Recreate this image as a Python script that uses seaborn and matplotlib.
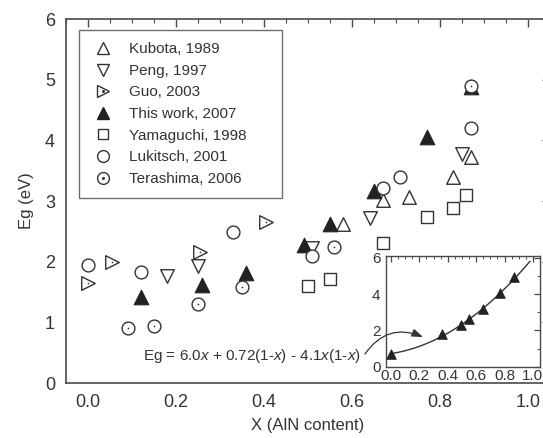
import numpy as np
import matplotlib
matplotlib.use("Agg")
import matplotlib.pyplot as plt
from matplotlib.lines import Line2D
from matplotlib.ticker import MultipleLocator, FormatStrFormatter
import seaborn as sns

# Band-gap measurements of InAlN versus AlN mole fraction
kubota_x = [0.58, 0.67, 0.73, 0.83, 0.87]
kubota_y = [2.62, 3.02, 3.07, 3.40, 3.73]

peng_x = [0.18, 0.25, 0.51, 0.64, 0.85]
peng_y = [1.77, 1.93, 2.22, 2.72, 3.77]

guo_x = [0.00, 0.055, 0.255, 0.405]
guo_y = [1.65, 2.00, 2.16, 2.65]

this_work_x = [0.12, 0.26, 0.36, 0.49, 0.55, 0.65, 0.77, 0.87]
this_work_y = [1.41, 1.61, 1.81, 2.27, 2.62, 3.16, 4.06, 4.88]

yamaguchi_x = [0.50, 0.55, 0.67, 0.77, 0.83, 0.86]
yamaguchi_y = [1.60, 1.71, 2.30, 2.74, 2.88, 3.10]

lukitsch_x = [0.00, 0.12, 0.33, 0.51, 0.67, 0.71, 0.87]
lukitsch_y = [1.95, 1.83, 2.49, 2.09, 3.21, 3.40, 4.20]

terashima_x = [0.09, 0.15, 0.25, 0.35, 0.56, 0.87]
terashima_y = [0.90, 0.94, 1.30, 1.58, 2.25, 4.90]

# inset: this work with InN end point, fitted bowing curve
inset_x = [0.00, 0.36, 0.49, 0.55, 0.65, 0.77, 0.87]
inset_y = [0.72, 1.82, 2.27, 2.64, 3.18, 4.05, 4.92]
eg_aln, eg_inn, bowing = 6.0, 0.72, 4.1

sns.set_theme(style="white")
plt.rcParams["font.family"] = ["Liberation Sans", "DejaVu Sans"]
plt.rcParams["mathtext.fontset"] = "custom"
plt.rcParams["mathtext.rm"] = "Liberation Sans"
plt.rcParams["mathtext.it"] = "Liberation Sans:italic"

ink = "#333333"
spine_c = "#4a4a4a"

fig = plt.figure(figsize=(5.43, 4.38), dpi=100)
ax = fig.add_axes([66 / 543, 55 / 438, 484 / 543, 364 / 438])

open_kw = dict(color="white", edgecolor=ink, linewidth=1.0, legend=False)

sns.scatterplot(x=kubota_x, y=kubota_y, marker="^", s=95, ax=ax, zorder=3, **open_kw)
sns.scatterplot(x=peng_x, y=peng_y, marker="v", s=95, ax=ax, zorder=3, **open_kw)
sns.scatterplot(x=guo_x, y=guo_y, marker=">", s=95, ax=ax, zorder=3, **open_kw)
sns.scatterplot(x=guo_x, y=guo_y, marker="o", s=1.5, color=ink, linewidth=0,
                ax=ax, zorder=3, legend=False)
sns.scatterplot(x=this_work_x, y=this_work_y, marker="^", s=110, color="#222222",
                edgecolor="#222222", linewidth=0.8, ax=ax, zorder=4, legend=False)
sns.scatterplot(x=yamaguchi_x, y=yamaguchi_y, marker="s", s=72, ax=ax, zorder=5, **open_kw)
sns.scatterplot(x=lukitsch_x, y=lukitsch_y, marker="o", s=85, ax=ax, zorder=5, **open_kw)
sns.scatterplot(x=terashima_x, y=terashima_y, marker="o", s=85, ax=ax, zorder=5, **open_kw)
sns.scatterplot(x=terashima_x, y=terashima_y, marker="o", s=1.5, color=ink, linewidth=0,
                ax=ax, zorder=5, legend=False)

ax.set_xlim(-0.05, 1.05)
ax.set_ylim(0, 6)
ax.xaxis.set_major_locator(MultipleLocator(0.2))
ax.xaxis.set_minor_locator(MultipleLocator(0.05))
ax.yaxis.set_major_locator(MultipleLocator(1))
ax.yaxis.set_minor_locator(MultipleLocator(0.2))
ax.xaxis.set_major_formatter(FormatStrFormatter("%.1f"))
ax.tick_params(which="both", direction="in", top=True, right=True, colors=spine_c,
               labelcolor=ink, labelsize=13)
ax.tick_params(which="major", length=6, width=1.0, pad=8)
ax.tick_params(which="minor", length=3, width=0.8)
for s in ax.spines.values():
    s.set_color(spine_c)
    s.set_linewidth(1.2)
ax.set_xlabel("X (AlN content)", fontsize=12, color=ink, labelpad=5)
ax.set_ylabel("Eg (eV)", fontsize=12, color=ink, labelpad=8)


def open_handle(m, ms=8.5):
    return Line2D([], [], marker=m, ls="none", mfc="white", mec=ink, mew=1.0, ms=ms)


def dot_handle():
    return Line2D([], [], marker="o", ls="none", mfc=ink, mec=ink, ms=1.2)


handles = [
    open_handle("^"),
    open_handle("v"),
    (open_handle(">"), dot_handle()),
    Line2D([], [], marker="^", ls="none", mfc="#222222", mec="#222222", ms=9),
    open_handle("s", 7.5),
    open_handle("o", 8.5),
    (open_handle("o", 8.5), dot_handle()),
]
labels = ["Kubota, 1989", "Peng, 1997", "Guo, 2003", "This work, 2007",
          "Yamaguchi, 1998", "Lukitsch, 2001", "Terashima, 2006"]
leg = ax.legend(handles, labels, loc="upper left",
                bbox_to_anchor=(13 / 484, 0, 203 / 484, 353 / 364), mode="expand",
                borderaxespad=0, frameon=True, fancybox=False, fontsize=11,
                handlelength=1.5, handletextpad=0.95, labelspacing=0.5,
                borderpad=0.8, labelcolor=ink)
leg.get_frame().set_edgecolor(spine_c)
leg.get_frame().set_linewidth(1.0)

ax.text(0.125, 0.45, r"Eg = 6.0$\mathit{x}$ + 0.72(1-$\mathit{x}$) - 4.1$\mathit{x}$(1-$\mathit{x}$)",
        fontsize=11, color=ink, va="center", ha="left")

# inset
ins = fig.add_axes([386 / 543, 71 / 438, 154 / 543, 111 / 438])
xs = np.linspace(0.0, 0.98, 100)
fit = eg_aln * xs + eg_inn * (1 - xs) - bowing * xs * (1 - xs)
sns.lineplot(x=xs, y=fit, color=ink, linewidth=1.0, ax=ins, zorder=2)
sns.scatterplot(x=inset_x, y=inset_y, marker="^", s=48, color="#222222",
                edgecolor="#222222", linewidth=0.6, ax=ins, zorder=3, legend=False)
ins.set_xlim(-0.035, 1.05)
ins.set_ylim(-0.02, 6.1)
ins.xaxis.set_major_locator(MultipleLocator(0.2))
ins.xaxis.set_minor_locator(MultipleLocator(0.05))
ins.yaxis.set_major_locator(MultipleLocator(2))
ins.yaxis.set_minor_locator(MultipleLocator(1))
ins.xaxis.set_major_formatter(FormatStrFormatter("%.1f"))
ins.tick_params(which="both", direction="in", top=True, right=True, colors=spine_c,
                labelcolor=ink, labelsize=11)
ins.tick_params(which="major", length=4, width=0.9, pad=1.5)
ins.tick_params(axis="y", which="major", pad=4)
ins.tick_params(which="minor", length=2.5, width=0.7)
for s in ins.spines.values():
    s.set_color(spine_c)
    s.set_linewidth(1.0)
ins.set_xlabel("")
ins.set_ylabel("")
ins.patch.set_facecolor("white")

# curved arrow from the fit equation into the inset
ins.annotate("", xy=(423, 438 - 337), xycoords="figure pixels",
             xytext=(365, 438 - 354), textcoords="figure pixels",
             arrowprops=dict(arrowstyle="-|>,head_length=0.55,head_width=0.2",
                             color=ink, lw=0.9, shrinkA=0, shrinkB=0,
                             connectionstyle="arc3,rad=-0.4"),
             annotation_clip=False, zorder=10)

fig.savefig("out.png", dpi=100)
